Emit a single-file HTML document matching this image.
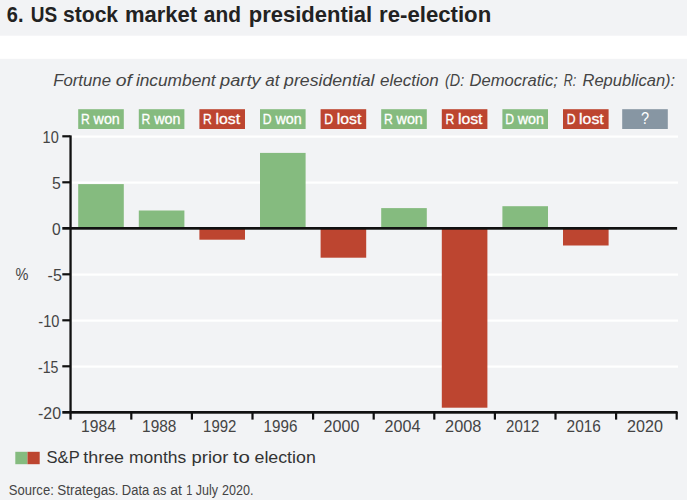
<!DOCTYPE html>
<html><head><meta charset="utf-8">
<style>
html,body{margin:0;padding:0;background:#f2f3f5;}
body{width:687px;height:500px;overflow:hidden;font-family:"Liberation Sans",sans-serif;}
svg{display:block;}
text{font-family:"Liberation Sans",sans-serif;}
</style></head><body>
<svg width="687" height="500" viewBox="0 0 687 500">
<rect x="0" y="0" width="687" height="500" fill="#f2f3f5"/>
<rect x="0" y="35.7" width="687" height="23.1" fill="#ffffff"/>
<text x="6.8" y="22.4" font-size="22" fill="#222222" textLength="16.7" lengthAdjust="spacingAndGlyphs" font-weight="bold">6.</text>
<text x="30.8" y="22.4" font-size="22" fill="#222222" textLength="26.4" lengthAdjust="spacingAndGlyphs" font-weight="bold">US</text>
<text x="63.0" y="22.4" font-size="22" fill="#222222" textLength="55.1" lengthAdjust="spacingAndGlyphs" font-weight="bold">stock</text>
<text x="124.9" y="22.4" font-size="22" fill="#222222" textLength="72.1" lengthAdjust="spacingAndGlyphs" font-weight="bold">market</text>
<text x="203.8" y="22.4" font-size="22" fill="#222222" textLength="37.1" lengthAdjust="spacingAndGlyphs" font-weight="bold">and</text>
<text x="248.7" y="22.4" font-size="22" fill="#222222" textLength="123.5" lengthAdjust="spacingAndGlyphs" font-weight="bold">presidential</text>
<text x="379.1" y="22.4" font-size="22" fill="#222222" textLength="112.1" lengthAdjust="spacingAndGlyphs" font-weight="bold">re-election</text>
<text x="53.2" y="86.0" font-size="16.8" fill="#444444" textLength="57.8" lengthAdjust="spacingAndGlyphs" font-style="italic">Fortune</text>
<text x="115.7" y="86.0" font-size="16.8" fill="#444444" textLength="16.2" lengthAdjust="spacingAndGlyphs" font-style="italic">of</text>
<text x="135.9" y="86.0" font-size="16.8" fill="#444444" textLength="79.8" lengthAdjust="spacingAndGlyphs" font-style="italic">incumbent</text>
<text x="220.1" y="86.0" font-size="16.8" fill="#444444" textLength="40.5" lengthAdjust="spacingAndGlyphs" font-style="italic">party</text>
<text x="265.2" y="86.0" font-size="16.8" fill="#444444" textLength="14.2" lengthAdjust="spacingAndGlyphs" font-style="italic">at</text>
<text x="284.1" y="86.0" font-size="16.8" fill="#444444" textLength="90.4" lengthAdjust="spacingAndGlyphs" font-style="italic">presidential</text>
<text x="380.1" y="86.0" font-size="16.8" fill="#444444" textLength="58.5" lengthAdjust="spacingAndGlyphs" font-style="italic">election</text>
<text x="445.1" y="86.0" font-size="16.8" fill="#444444" textLength="19.1" lengthAdjust="spacingAndGlyphs" font-style="italic">(D:</text>
<text x="469.5" y="86.0" font-size="16.8" fill="#444444" textLength="88.4" lengthAdjust="spacingAndGlyphs" font-style="italic">Democratic;</text>
<text x="563.7" y="86.0" font-size="16.8" fill="#444444" textLength="12.4" lengthAdjust="spacingAndGlyphs" font-style="italic">R:</text>
<text x="582.5" y="86.0" font-size="16.8" fill="#444444" textLength="92.7" lengthAdjust="spacingAndGlyphs" font-style="italic">Republican):</text>
<rect x="72" y="135.5" width="606" height="2.2" fill="#ffffff"/>
<rect x="72" y="181.5" width="606" height="2.2" fill="#ffffff"/>
<rect x="72" y="273.5" width="606" height="2.2" fill="#ffffff"/>
<rect x="72" y="319.5" width="606" height="2.2" fill="#ffffff"/>
<rect x="72" y="365.5" width="606" height="2.2" fill="#ffffff"/>
<rect x="78.2" y="109.2" width="45.6" height="19.8" fill="#85bb7f"/>
<text x="81.0" y="123.5" font-size="14.3" fill="#ffffff" textLength="8.8" lengthAdjust="spacingAndGlyphs" stroke="#ffffff" stroke-width="0.3">R</text>
<text x="93.6" y="123.5" font-size="14.3" fill="#ffffff" textLength="26.2" lengthAdjust="spacingAndGlyphs" stroke="#ffffff" stroke-width="0.3">won</text>
<rect x="78.2" y="184.1" width="45.6" height="44.2" fill="#85bb7f"/>
<rect x="138.8" y="109.2" width="45.6" height="19.8" fill="#85bb7f"/>
<text x="141.6" y="123.5" font-size="14.3" fill="#ffffff" textLength="8.8" lengthAdjust="spacingAndGlyphs" stroke="#ffffff" stroke-width="0.3">R</text>
<text x="154.2" y="123.5" font-size="14.3" fill="#ffffff" textLength="26.2" lengthAdjust="spacingAndGlyphs" stroke="#ffffff" stroke-width="0.3">won</text>
<rect x="138.8" y="210.5" width="45.6" height="17.8" fill="#85bb7f"/>
<rect x="199.4" y="109.2" width="45.6" height="19.8" fill="#bd4530"/>
<text x="203.1" y="123.5" font-size="14.3" fill="#ffffff" textLength="8.8" lengthAdjust="spacingAndGlyphs" stroke="#ffffff" stroke-width="0.3">R</text>
<text x="215.5" y="123.5" font-size="14.3" fill="#ffffff" textLength="24.6" lengthAdjust="spacingAndGlyphs" stroke="#ffffff" stroke-width="0.3">lost</text>
<rect x="199.4" y="228.3" width="45.6" height="11.4" fill="#bd4530"/>
<rect x="260.0" y="109.2" width="45.6" height="19.8" fill="#85bb7f"/>
<text x="262.8" y="123.5" font-size="14.3" fill="#ffffff" textLength="8.8" lengthAdjust="spacingAndGlyphs" stroke="#ffffff" stroke-width="0.3">D</text>
<text x="275.4" y="123.5" font-size="14.3" fill="#ffffff" textLength="26.2" lengthAdjust="spacingAndGlyphs" stroke="#ffffff" stroke-width="0.3">won</text>
<rect x="260.0" y="152.9" width="45.6" height="75.4" fill="#85bb7f"/>
<rect x="320.6" y="109.2" width="45.6" height="19.8" fill="#bd4530"/>
<text x="324.3" y="123.5" font-size="14.3" fill="#ffffff" textLength="8.8" lengthAdjust="spacingAndGlyphs" stroke="#ffffff" stroke-width="0.3">D</text>
<text x="336.7" y="123.5" font-size="14.3" fill="#ffffff" textLength="24.6" lengthAdjust="spacingAndGlyphs" stroke="#ffffff" stroke-width="0.3">lost</text>
<rect x="320.6" y="228.3" width="45.6" height="29.4" fill="#bd4530"/>
<rect x="381.2" y="109.2" width="45.6" height="19.8" fill="#85bb7f"/>
<text x="384.0" y="123.5" font-size="14.3" fill="#ffffff" textLength="8.8" lengthAdjust="spacingAndGlyphs" stroke="#ffffff" stroke-width="0.3">R</text>
<text x="396.6" y="123.5" font-size="14.3" fill="#ffffff" textLength="26.2" lengthAdjust="spacingAndGlyphs" stroke="#ffffff" stroke-width="0.3">won</text>
<rect x="381.2" y="208.1" width="45.6" height="20.2" fill="#85bb7f"/>
<rect x="441.8" y="109.2" width="45.6" height="19.8" fill="#bd4530"/>
<text x="445.5" y="123.5" font-size="14.3" fill="#ffffff" textLength="8.8" lengthAdjust="spacingAndGlyphs" stroke="#ffffff" stroke-width="0.3">R</text>
<text x="457.9" y="123.5" font-size="14.3" fill="#ffffff" textLength="24.6" lengthAdjust="spacingAndGlyphs" stroke="#ffffff" stroke-width="0.3">lost</text>
<rect x="441.8" y="228.3" width="45.6" height="179.4" fill="#bd4530"/>
<rect x="502.4" y="109.2" width="45.6" height="19.8" fill="#85bb7f"/>
<text x="505.2" y="123.5" font-size="14.3" fill="#ffffff" textLength="8.8" lengthAdjust="spacingAndGlyphs" stroke="#ffffff" stroke-width="0.3">D</text>
<text x="517.8" y="123.5" font-size="14.3" fill="#ffffff" textLength="26.2" lengthAdjust="spacingAndGlyphs" stroke="#ffffff" stroke-width="0.3">won</text>
<rect x="502.4" y="206.2" width="45.6" height="22.1" fill="#85bb7f"/>
<rect x="563.0" y="109.2" width="45.6" height="19.8" fill="#bd4530"/>
<text x="566.7" y="123.5" font-size="14.3" fill="#ffffff" textLength="8.8" lengthAdjust="spacingAndGlyphs" stroke="#ffffff" stroke-width="0.3">D</text>
<text x="579.1" y="123.5" font-size="14.3" fill="#ffffff" textLength="24.6" lengthAdjust="spacingAndGlyphs" stroke="#ffffff" stroke-width="0.3">lost</text>
<rect x="563.0" y="228.3" width="45.6" height="17.2" fill="#bd4530"/>
<rect x="622.2" y="109.2" width="45.6" height="19.8" fill="#8796a3"/>
<text x="641.0" y="124.1" font-size="16.4" fill="#ffffff" textLength="8.1" lengthAdjust="spacingAndGlyphs" >?</text>
<rect x="69.4" y="135.4" width="2.3" height="284.2" fill="#111111"/>
<rect x="62.3" y="227" width="614.8" height="2.7" fill="#111111"/>
<rect x="62.3" y="411" width="615.2" height="2.7" fill="#111111"/>
<rect x="62.3" y="135.2" width="8" height="2.2" fill="#111111"/>
<rect x="62.3" y="181.2" width="8" height="2.2" fill="#111111"/>
<rect x="62.3" y="273.2" width="8" height="2.2" fill="#111111"/>
<rect x="62.3" y="319.2" width="8" height="2.2" fill="#111111"/>
<rect x="62.3" y="365.2" width="8" height="2.2" fill="#111111"/>
<rect x="130.2" y="412" width="2.2" height="7.6" fill="#111111"/>
<rect x="190.8" y="412" width="2.2" height="7.6" fill="#111111"/>
<rect x="251.4" y="412" width="2.2" height="7.6" fill="#111111"/>
<rect x="312.0" y="412" width="2.2" height="7.6" fill="#111111"/>
<rect x="372.6" y="412" width="2.2" height="7.6" fill="#111111"/>
<rect x="433.2" y="412" width="2.2" height="7.6" fill="#111111"/>
<rect x="493.8" y="412" width="2.2" height="7.6" fill="#111111"/>
<rect x="554.4" y="412" width="2.2" height="7.6" fill="#111111"/>
<rect x="615.0" y="412" width="2.2" height="7.6" fill="#111111"/>
<rect x="675.6" y="412" width="2.2" height="7.6" fill="#111111"/>
<text x="42.6" y="142.6" font-size="16.1" fill="#444444" textLength="16.1" lengthAdjust="spacingAndGlyphs" >10</text>
<text x="52.0" y="188.6" font-size="16.1" fill="#444444" textLength="8.8" lengthAdjust="spacingAndGlyphs" >5</text>
<text x="52.1" y="234.6" font-size="16.1" fill="#444444" textLength="8.7" lengthAdjust="spacingAndGlyphs" >0</text>
<text x="47.6" y="280.6" font-size="16.1" fill="#444444" textLength="14.2" lengthAdjust="spacingAndGlyphs" >-5</text>
<text x="38.3" y="326.6" font-size="16.1" fill="#444444" textLength="21.1" lengthAdjust="spacingAndGlyphs" >-10</text>
<text x="38.0" y="372.6" font-size="16.1" fill="#444444" textLength="20.4" lengthAdjust="spacingAndGlyphs" >-15</text>
<text x="38.0" y="418.6" font-size="16.1" fill="#444444" textLength="23.0" lengthAdjust="spacingAndGlyphs" >-20</text>
<text x="15.4" y="280.2" font-size="15.6" fill="#444444" textLength="12.9" lengthAdjust="spacingAndGlyphs" >%</text>
<text x="81.1" y="432.4" font-size="16.1" fill="#444444" textLength="34.8" lengthAdjust="spacingAndGlyphs" >1984</text>
<text x="142.1" y="432.4" font-size="16.1" fill="#444444" textLength="34.3" lengthAdjust="spacingAndGlyphs" >1988</text>
<text x="203.1" y="432.4" font-size="16.1" fill="#444444" textLength="33.3" lengthAdjust="spacingAndGlyphs" >1992</text>
<text x="263.6" y="432.4" font-size="16.1" fill="#444444" textLength="33.8" lengthAdjust="spacingAndGlyphs" >1996</text>
<text x="323.6" y="432.4" font-size="16.1" fill="#444444" textLength="35.8" lengthAdjust="spacingAndGlyphs" >2000</text>
<text x="384.6" y="432.4" font-size="16.1" fill="#444444" textLength="35.8" lengthAdjust="spacingAndGlyphs" >2004</text>
<text x="445.1" y="432.4" font-size="16.1" fill="#444444" textLength="36.3" lengthAdjust="spacingAndGlyphs" >2008</text>
<text x="506.1" y="432.4" font-size="16.1" fill="#444444" textLength="33.3" lengthAdjust="spacingAndGlyphs" >2012</text>
<text x="566.6" y="432.4" font-size="16.1" fill="#444444" textLength="34.3" lengthAdjust="spacingAndGlyphs" >2016</text>
<text x="627.1" y="432.4" font-size="16.1" fill="#444444" textLength="35.8" lengthAdjust="spacingAndGlyphs" >2020</text>
<rect x="15.3" y="451.8" width="12.2" height="12.4" fill="#85bb7f"/>
<rect x="27.5" y="451.8" width="12.2" height="12.4" fill="#bd4530"/>
<text x="46.6" y="462.9" font-size="17.3" fill="#333333" textLength="33.1" lengthAdjust="spacingAndGlyphs" >S&amp;P</text>
<text x="83.3" y="462.9" font-size="17.3" fill="#333333" textLength="40.7" lengthAdjust="spacingAndGlyphs" >three</text>
<text x="129.1" y="462.9" font-size="17.3" fill="#333333" textLength="57.2" lengthAdjust="spacingAndGlyphs" >months</text>
<text x="191.6" y="462.9" font-size="17.3" fill="#333333" textLength="36.8" lengthAdjust="spacingAndGlyphs" >prior</text>
<text x="232.7" y="462.9" font-size="17.3" fill="#333333" textLength="17.1" lengthAdjust="spacingAndGlyphs" >to</text>
<text x="254.5" y="462.9" font-size="17.3" fill="#333333" textLength="61.3" lengthAdjust="spacingAndGlyphs" >election</text>
<text x="8.8" y="495.0" font-size="14.7" fill="#444444" textLength="45.0" lengthAdjust="spacingAndGlyphs" >Source:</text>
<text x="57.3" y="495.0" font-size="14.7" fill="#444444" textLength="61.3" lengthAdjust="spacingAndGlyphs" >Strategas.</text>
<text x="121.8" y="495.0" font-size="14.7" fill="#444444" textLength="27.4" lengthAdjust="spacingAndGlyphs" >Data</text>
<text x="152.8" y="495.0" font-size="14.7" fill="#444444" textLength="13.5" lengthAdjust="spacingAndGlyphs" >as</text>
<text x="170.3" y="495.0" font-size="14.7" fill="#444444" textLength="11.7" lengthAdjust="spacingAndGlyphs" >at</text>
<text x="186.2" y="495.0" font-size="14.7" fill="#444444" textLength="6.1" lengthAdjust="spacingAndGlyphs" >1</text>
<text x="195.8" y="495.0" font-size="14.7" fill="#444444" textLength="22.2" lengthAdjust="spacingAndGlyphs" >July</text>
<text x="222.0" y="495.0" font-size="14.7" fill="#444444" textLength="31.4" lengthAdjust="spacingAndGlyphs" >2020.</text>
</svg>
</body></html>
